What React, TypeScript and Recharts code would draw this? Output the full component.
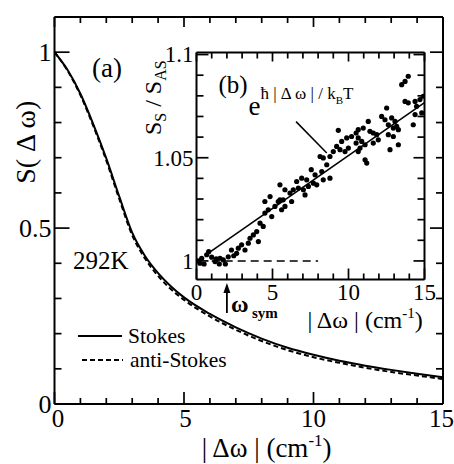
import React from 'react';
import {
  LineChart, Line, XAxis, YAxis, ComposedChart, Scatter, ReferenceDot, ReferenceLine, Legend,
} from 'recharts';

const serifCss = "'Liberation Serif', 'DejaVu Serif', serif";
const fs = (size: number, extra: any = {}) => ({ fontFamily: serifCss, fontSize: size, ...extra });

// ---------- panel (a): line shape function ----------
const shiftX = [0, 0.5, 1, 1.5, 2, 2.5, 3, 3.5, 4, 4.5, 5, 6, 7, 8, 9, 10, 11, 12, 13, 14, 15];
const stokes = [1.0, 0.95, 0.882, 0.795, 0.698, 0.59, 0.487, 0.42, 0.372, 0.334, 0.303, 0.256, 0.218, 0.186, 0.16, 0.14, 0.123, 0.109, 0.097, 0.086, 0.076];
const antiStokes = [1.0, 0.948, 0.878, 0.79, 0.692, 0.583, 0.48, 0.413, 0.364, 0.326, 0.296, 0.249, 0.211, 0.179, 0.153, 0.133, 0.117, 0.103, 0.091, 0.081, 0.071];

const mainXTicks = [0, 1, 2, 3, 4, 5, 6, 7, 8, 9, 10, 11, 12, 13, 14, 15];
const mainXMajor = [0, 5, 10, 15];
const mainYTicks = [0, 0.1, 0.2, 0.3, 0.4, 0.5, 0.6, 0.7, 0.8, 0.9, 1.0, 1.1];
const mainYMajor = [0, 0.5, 1];

// ---------- panel (b): ratio S_S / S_AS ----------
const ratioX = [0.1, 0.23, 0.34, 0.5, 0.67, 0.8, 1.0, 1.22, 1.3, 1.5, 1.55, 1.76, 1.9, 2.09, 2.3, 2.45, 2.64, 2.75, 2.97, 3.19, 3.41, 3.52, 3.74, 3.96, 4.07, 4.18, 4.39, 4.5, 4.5, 4.72, 4.84, 4.95, 5.16, 5.38, 5.49, 5.49, 5.6, 5.7, 5.82, 5.82, 6.15, 6.26, 6.37, 6.59, 6.7, 6.92, 7.03, 7.14, 7.25, 7.36, 7.55, 7.69, 7.8, 7.91, 8.13, 8.24, 8.34, 8.34, 8.57, 8.78, 8.78, 9.0, 9.22, 9.33, 9.44, 9.55, 9.77, 9.88, 9.99, 10.2, 10.5, 10.5, 10.64, 10.64, 10.64, 10.76, 10.87, 10.97, 11.09, 11.09, 11.2, 11.3, 11.41, 11.63, 11.63, 11.86, 11.96, 12.18, 12.4, 12.51, 12.62, 12.62, 12.73, 12.84, 12.95, 12.95, 13.06, 13.17, 13.28, 13.28, 13.5, 13.72, 13.93, 13.72, 13.93, 14.26, 14.38, 14.38, 14.48, 14.7, 14.82, 14.92];
const ratioY = [1.0, 0.9989, 1.0013, 0.9985, 1.003, 1.0045, 1.0018, 0.9997, 1.001, 0.9985, 1.0013, 1.0005, 0.9985, 1.002, 1.0053, 1.0025, 1.0037, 1.0062, 1.0078, 1.0053, 1.0086, 1.011, 1.0126, 1.0142, 1.0094, 1.0183, 1.0167, 1.0232, 1.0288, 1.0248, 1.0312, 1.0215, 1.0264, 1.0288, 1.0369, 1.0296, 1.0248, 1.0296, 1.0264, 1.0345, 1.0329, 1.0288, 1.0345, 1.0385, 1.0353, 1.0401, 1.0345, 1.032, 1.0393, 1.0361, 1.0442, 1.0377, 1.0417, 1.0369, 1.0506, 1.0433, 1.0499, 1.0393, 1.0466, 1.0506, 1.0401, 1.053, 1.0555, 1.0633, 1.0539, 1.0579, 1.053, 1.0596, 1.0547, 1.0603, 1.062, 1.0571, 1.0636, 1.0596, 1.053, 1.0547, 1.0579, 1.0644, 1.0563, 1.049, 1.0474, 1.0676, 1.0628, 1.062, 1.0571, 1.0612, 1.0587, 1.07, 1.0684, 1.0741, 1.066, 1.0612, 1.0539, 1.0693, 1.0644, 1.0603, 1.0676, 1.0652, 1.0636, 1.0563, 1.0854, 1.087, 1.0895, 1.0773, 1.0766, 1.066, 1.0773, 1.0709, 1.0749, 1.0782, 1.0717, 1.0798];
const fitX = [0.9, 15];
const fitY = [1.0044, 1.0767];
const baseX = [1, 8];
const baseY = [1, 1];

const insetXTicks = [0, 1, 2, 3, 4, 5, 6, 7, 8, 9, 10, 11, 12, 13, 14, 15];
const insetXMajor = [0, 5, 10, 15];
const insetYTicks = [1.0, 1.01, 1.02, 1.03, 1.04, 1.05, 1.06, 1.07, 1.08, 1.09, 1.1];
const insetYMajor = [1, 1.05, 1.1];

const seriesDefs = [
  { key: 'stokes', name: 'Stokes', dash: undefined as string | undefined },
  { key: 'anti', name: 'anti-Stokes', dash: '5 3' },
];

const mainRows = shiftX.map((x, i) => ({ x, stokes: stokes[i], anti: antiStokes[i] }));
const ratioRows = ratioX.map((x, i) => ({ x, y: ratioY[i] }));
const fitRows = fitX.map((x, i) => ({ x, y: fitY[i] }));
const baseRows = baseX.map((x, i) => ({ x, y: baseY[i] }));

function AxisTick(props: any) {
  const { x, y, payload, side, majors, majorLen, minorLen, labels, fontSize, gap, nudge } = props;
  const v = Number(payload?.value);
  const isMajor = majors.some((m: number) => Math.abs(m - v) < 1e-6);
  const len = isMajor ? majorLen : minorLen;
  const st = { stroke: '#000', strokeWidth: 1.7 };
  const lab = labels && isMajor ? String(+v.toFixed(4)) : null;
  const dx = (nudge && nudge[lab as string]) || 0;
  let tick: any = null;
  let text: any = null;
  if (side === 'bottom') {
    tick = <line x1={x} x2={x} y1={y} y2={y - len} {...st} />;
    if (lab) text = <text x={x + dx} y={y + gap} textAnchor="middle" style={fs(fontSize)} fill="#000">{lab}</text>;
  } else if (side === 'top') {
    tick = <line x1={x} x2={x} y1={y} y2={y + len} {...st} />;
  } else if (side === 'left') {
    tick = <line x1={x} x2={x + len} y1={y} y2={y} {...st} />;
    if (lab) text = <text x={x - gap} y={y + fontSize * 0.34} textAnchor="end" style={fs(fontSize)} fill="#000">{lab}</text>;
  } else {
    tick = <line x1={x} x2={x - len} y1={y} y2={y} {...st} />;
  }
  return <g>{tick}{text}</g>;
}

function TextAt(props: any) {
  const { viewBox, node, anchor = 'start', size = 24, rotate = 0, weight } = props;
  if (!viewBox) return null;
  const x = viewBox.x + (viewBox.width || 0) / 2;
  const y = viewBox.y + (viewBox.height || 0) / 2;
  return (
    <text x={x} y={y} textAnchor={anchor} style={fs(size, weight ? { fontWeight: weight } : {})} fill="#000"
      transform={rotate ? `rotate(${rotate} ${x} ${y})` : undefined}>
      {node}
    </text>
  );
}

function OmegaSym(props: any) {
  const { viewBox } = props;
  if (!viewBox) return null;
  const x = viewBox.x + (viewBox.width || 0) / 2;
  const y = viewBox.y + (viewBox.height || 0) / 2;
  return (
    <g>
      <line x1={x} x2={x} y1={y} y2={y - 22} stroke="#000" strokeWidth={1.8} />
      <path d={`M ${x - 3.5} ${y - 20} L ${x} ${y - 30} L ${x + 3.5} ${y - 20} Z`} fill="#000" />
      <text x={x + 4} y={y - 1} style={fs(24, { fontWeight: 'bold' })} fill="#000">ω</text>
      <text x={x + 25} y={y + 5} style={fs(15, { fontWeight: 'bold' })} fill="#000">sym</text>
    </g>
  );
}

function LegendBox(props: any) {
  const items = props.payload || [];
  return (
    <svg width={180} height={50} style={{ display: 'block', overflow: 'visible' }}>
      {items.map((it: any, i: number) => {
        const def = seriesDefs.find((d) => d.name === it.value) || seriesDefs[i];
        const dashed = !!def.dash;
        const yy = dashed ? 35 : 11;
        return (
          <g key={i}>
            <line x1={dashed ? 4 : 0} x2={dashed ? 45 : 44} y1={yy} y2={yy} stroke="#000" strokeWidth={1.8} strokeDasharray={def.dash} />
            <text x={dashed ? 52 : 50} y={yy + 7} style={fs(21.5)} fill="#000">{it.value}</text>
          </g>
        );
      })}
    </svg>
  );
}

const axisLine = { stroke: '#000', strokeWidth: 2 };

const titleNode = (sup: number, rise: number) => (
  <>{'| Δω |  (cm'}<tspan style={{ fontSize: sup }} dy={-rise}>-1</tspan><tspan dy={rise}>)</tspan></>
);

export default function App() {
  return (
    <div style={{ position: 'absolute', left: 0, top: 0, width: 454, height: 464, background: '#fff' }}>
      <div style={{ position: 'absolute', left: 0, top: 0 }}>
        <LineChart width={454} height={464} data={mainRows} margin={{ top: 16, right: 10, bottom: 59, left: 53.5 }}>
          <XAxis dataKey="x" type="number" domain={[0, 15]} allowDataOverflow ticks={mainXTicks} interval={0}
            height={1} tickSize={0} tickMargin={0} tickLine={false} axisLine={axisLine}
            tick={<AxisTick side="bottom" majors={mainXMajor} majorLen={12} minorLen={6} labels fontSize={25} gap={23} nudge={{ '0': 3.5, '5': 1.5, '15': -1.5 }} />} />
          <XAxis xAxisId="top" orientation="top" dataKey="x" type="number" domain={[0, 15]} allowDataOverflow ticks={mainXTicks} interval={0}
            height={1} tickSize={0} tickMargin={0} tickLine={false} axisLine={axisLine}
            tick={<AxisTick side="top" majors={mainXMajor} majorLen={10} minorLen={6} />} />
          <YAxis type="number" domain={[0, 1.1]} allowDataOverflow ticks={mainYTicks} interval={0}
            width={1} tickSize={0} tickMargin={0} tickLine={false} axisLine={axisLine}
            tick={<AxisTick side="left" majors={mainYMajor} majorLen={15} minorLen={7} labels fontSize={26} gap={3} />} />
          <YAxis yAxisId="right" orientation="right" type="number" domain={[0, 1.1]} allowDataOverflow ticks={mainYTicks} interval={0}
            width={1} tickSize={0} tickMargin={0} tickLine={false} axisLine={axisLine}
            tick={<AxisTick side="right" majors={mainYMajor} majorLen={13} minorLen={7} />} />
          <Line dataKey="stokes" name="Stokes" type="monotone" stroke="#000" strokeWidth={2} dot={false} isAnimationActive={false} />
          <Line dataKey="anti" name="anti-Stokes" type="monotone" stroke="#000" strokeWidth={2} strokeDasharray="5 3" dot={false} isAnimationActive={false} />
          <Legend layout="vertical" align="center" verticalAlign="middle" wrapperStyle={{ left: 78, top: 325, width: 180, height: 50 }}
            content={<LegendBox />} />
          <ReferenceDot x={1.45} y={0.929} r={0} ifOverflow="visible" label={<TextAt node="(a)" size={27} />} />
          <ReferenceDot x={0.71} y={0.385} r={0} ifOverflow="visible" label={<TextAt node="292K" size={25} />} />
          <ReferenceDot x={8.19} y={-0.151} r={0} ifOverflow="visible"
            label={<TextAt anchor="middle" size={27} node={titleNode(17, 11)} />} />
          <ReferenceDot x={-1.1} y={0.744} r={0} ifOverflow="visible"
            label={<TextAt anchor="middle" size={28} rotate={-90} node={<tspan dy={9}>S( Δ ω)</tspan>} />} />
        </LineChart>
      </div>
      <div style={{ position: 'absolute', left: 130, top: 36 }}>
        <ComposedChart width={324} height={310} margin={{ top: 15.5, right: 28.5, bottom: 65.5, left: 65.5 }}>
          <XAxis dataKey="x" type="number" domain={[0, 15]} allowDataOverflow ticks={insetXTicks} interval={0}
            height={1} tickSize={0} tickMargin={0} tickLine={false} axisLine={axisLine}
            tick={<AxisTick side="bottom" majors={insetXMajor} majorLen={11} minorLen={6} labels fontSize={23} gap={20} />} />
          <XAxis xAxisId="top" orientation="top" dataKey="x" type="number" domain={[0, 15]} allowDataOverflow ticks={insetXTicks} interval={0}
            height={1} tickSize={0} tickMargin={0} tickLine={false} axisLine={axisLine}
            tick={<AxisTick side="top" majors={insetXMajor} majorLen={9} minorLen={6} />} />
          <YAxis dataKey="y" type="number" domain={[0.991, 1.101]} allowDataOverflow ticks={insetYTicks} interval={0}
            width={1} tickSize={0} tickMargin={0} tickLine={false} axisLine={axisLine}
            tick={<AxisTick side="left" majors={insetYMajor} majorLen={12} minorLen={7} labels fontSize={23} gap={3} />} />
          <YAxis yAxisId="right" orientation="right" dataKey="y" type="number" domain={[0.991, 1.101]} allowDataOverflow ticks={insetYTicks} interval={0}
            width={1} tickSize={0} tickMargin={0} tickLine={false} axisLine={axisLine}
            tick={<AxisTick side="right" majors={insetYMajor} majorLen={11} minorLen={7} />} />
          <Line data={baseRows} dataKey="y" stroke="#000" strokeWidth={1.5} strokeDasharray="8 5" dot={false} isAnimationActive={false} />
          <Line data={fitRows} dataKey="y" stroke="#000" strokeWidth={1.6} dot={false} isAnimationActive={false} />
          <Scatter data={ratioRows} dataKey="y" fill="#000" isAnimationActive={false}
            shape={(p: any) => <circle cx={p.cx} cy={p.cy} r={2.6} fill="#000" />} />
          <ReferenceLine segment={[{ x: 6.55, y: 1.0675 }, { x: 8.57, y: 1.0523 }]} stroke="#000" strokeWidth={1.5} ifOverflow="visible" />
          <ReferenceDot x={1.45} y={1.0816} r={0} ifOverflow="visible" label={<TextAt node="(b)" size={25} />} />
          <ReferenceDot x={3.42} y={1.0709} r={0} ifOverflow="visible"
            label={<TextAt size={27} node={<>{'e'}<tspan style={{ fontSize: 17 }} dy={-16}>{'ħ | Δ ω | / k'}</tspan><tspan style={{ fontSize: 11 }} dy={5}>B</tspan><tspan style={{ fontSize: 17 }} dy={-5}>T</tspan></>} />} />
          <ReferenceDot x={2} y={0.9748} r={0} ifOverflow="visible" label={<OmegaSym />} />
          <ReferenceDot x={11.09} y={0.9675} r={0} ifOverflow="visible"
            label={<TextAt anchor="middle" size={24} node={titleNode(15, 10)} />} />
          <ReferenceDot x={-2.86} y={1.0791} r={0} ifOverflow="visible"
            label={<TextAt anchor="middle" size={24} rotate={-90} node={<><tspan dy={8}>S</tspan><tspan style={{ fontSize: 16 }} dy={5}>S</tspan><tspan dy={-5}>{' / S'}</tspan><tspan style={{ fontSize: 16 }} dy={5}>AS</tspan></>} />} />
        </ComposedChart>
      </div>
    </div>
  );
}
